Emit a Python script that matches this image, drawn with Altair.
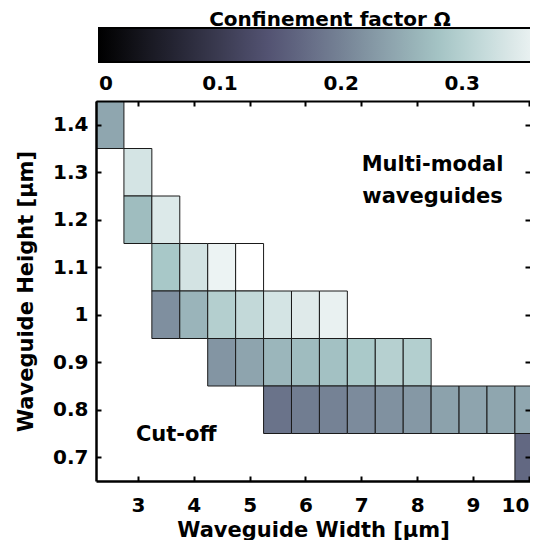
import altair as alt
import pandas as pd

FONT = "DejaVu Sans"

# ---- data ----
cell_width = [2.5,
              3.0,
              3.0, 3.5,
              3.5, 4.0, 4.5, 5.0,
              3.5, 4.0, 4.5, 5.0, 5.5, 6.0, 6.5,
              4.5, 5.0, 5.5, 6.0, 6.5, 7.0, 7.5, 8.0,
              5.5, 6.0, 6.5, 7.0, 7.5, 8.0, 8.5, 9.0, 9.5, 10.0,
              10.0]
cell_height = [1.4,
               1.3,
               1.2, 1.2,
               1.1, 1.1, 1.1, 1.1,
               1.0, 1.0, 1.0, 1.0, 1.0, 1.0, 1.0,
               0.9, 0.9, 0.9, 0.9, 0.9, 0.9, 0.9, 0.9,
               0.8, 0.8, 0.8, 0.8, 0.8, 0.8, 0.8, 0.8, 0.8, 0.8,
               0.7]
cell_omega = [0.244,
              0.334,
              0.272, 0.342,
              0.286, 0.332, 0.359, 0.380,
              0.216, 0.262, 0.299, 0.315, 0.334, 0.345, 0.356,
              0.223, 0.242, 0.264, 0.271, 0.278, 0.288, 0.301, 0.298,
              0.181, 0.193, 0.199, 0.211, 0.218, 0.227, 0.239, 0.242, 0.244, 0.245,
              0.167]

x_ticks = [3, 4, 5, 6, 7, 8, 9, 10]
y_ticks = [0.7, 0.8, 0.9, 1.0, 1.1, 1.2, 1.3, 1.4]
cbar_ticks = [0, 0.1, 0.2, 0.3]

ann1_text = ["Multi-modal\nwaveguides"]
ann1_x = [8.275]
ann1_y = [1.315]
ann2_text = ["Cut-off"]
ann2_x = [2.964]
ann2_y = [0.747]

# bone colormap stops
bone_domain = [0, 0.1425, 0.285, 0.38]
bone_range = ["#000000", "#545474", "#a7c7c7", "#ffffff"]

cells_df = pd.DataFrame({"w": cell_width, "h": cell_height, "omega": cell_omega})
ann1_df = pd.DataFrame({"t": ann1_text, "ax": ann1_x, "ay": ann1_y})
ann2_df = pd.DataFrame({"t": ann2_text, "ax": ann2_x, "ay": ann2_y})

xs = alt.Scale(domain=[2.25, 10.02], nice=False, zero=False)
ys = alt.Scale(domain=[0.65, 1.45], nice=False, zero=False)

lab = dict(labelFont=FONT, labelFontSize=20, labelFontWeight="bold", labelColor="black")
ttl = dict(titleFont=FONT, titleFontSize=21, titleFontWeight="bold", titleColor="black")


def ticks_only(orient, values):
    return alt.Axis(orient=orient, values=values, labels=False, domain=False,
                    ticks=True, tickSize=5, tickWidth=2, tickColor="black",
                    offset=-5, title=None, grid=False, zindex=1)


cells = alt.Chart(cells_df).transform_calculate(
    x0="datum.w - 0.25", x1="datum.w + 0.25",
    y0="datum.h - 0.05", y1="datum.h + 0.05",
).mark_rect(stroke="#1a1a1a", strokeWidth=1, clip=True).encode(
    x=alt.X("x0:Q", scale=xs, axis=alt.Axis(
        orient="bottom", values=x_ticks, format="d", ticks=False, grid=False,
        domain=True, domainColor="black", domainWidth=2.5, labelFlush=3,
        labelPadding=14, title="Waveguide Width [µm]", titlePadding=4, zindex=1,
        **lab, **ttl)),
    x2="x1:Q",
    y=alt.Y("y0:Q", scale=ys, axis=alt.Axis(
        orient="left", values=y_ticks, format=".1~f", ticks=False, grid=False,
        domain=True, domainColor="black", domainWidth=2.5,
        labelPadding=8, title="Waveguide Height [µm]", titlePadding=16, zindex=1,
        **lab, **ttl)),
    y2="y1:Q",
    color=alt.Color("omega:Q",
                    scale=alt.Scale(domain=bone_domain, range=bone_range, interpolate="rgb"),
                    legend=alt.Legend(
                        orient="none", legendX=3, legendY=-91, direction="horizontal",
                        padding=0,
                        gradientLength=460, gradientThickness=34,
                        gradientStrokeColor="black", gradientStrokeWidth=2,
                        values=cbar_ticks, format=".1~f", labelOverlap=False,
                        labelFont=FONT, labelFontSize=20, labelFontWeight="bold",
                        labelColor="black", labelOffset=12,
                        title="Confinement factor Ω", titleFont=FONT, titleFontSize=20,
                        titleFontWeight="bold", titleColor="black", titleLimit=600,
                        titleOrient="top", titleAnchor="middle", titlePadding=-2)),
)

multi = alt.Chart(ann1_df).mark_text(
    font=FONT, fontSize=21, fontWeight="bold", color="black",
    align="center", baseline="middle", lineBreak="\n", lineHeight=32,
).encode(
    x=alt.X("ax:Q", scale=xs, axis=ticks_only("bottom", x_ticks)),
    y=alt.Y("ay:Q", scale=ys, axis=ticks_only("left", y_ticks)),
    text="t:N",
)

cutoff = alt.Chart(ann2_df).mark_text(
    font=FONT, fontSize=21, fontWeight="bold", color="black",
    align="left", baseline="middle",
).encode(
    x=alt.X("ax:Q", scale=xs, axis=alt.Axis(
        orient="top", values=x_ticks, labels=False, ticks=False, domain=True,
        domainColor="black", domainWidth=2, title=None, grid=False, zindex=1)),
    y=alt.Y("ay:Q", scale=ys, axis=ticks_only("right", y_ticks)),
    text="t:N",
)

top_ticks = alt.Chart(ann2_df).mark_point(opacity=0).encode(
    x=alt.X("ax:Q", scale=xs, axis=ticks_only("top", x_ticks)),
    y=alt.Y("ay:Q", scale=ys, axis=None),
)

chart = alt.layer(cells, multi, cutoff, top_ticks).resolve_axis(
    x="independent", y="independent"
).properties(
    width=434, height=380,
    autosize=alt.AutoSizeParams(type="none"),
    padding={"left": 88, "top": 93, "right": 0, "bottom": 59},
    background="white",
).configure_view(stroke=None)

chart.save("out.html", embed_options={"renderer": "svg", "actions": False})
